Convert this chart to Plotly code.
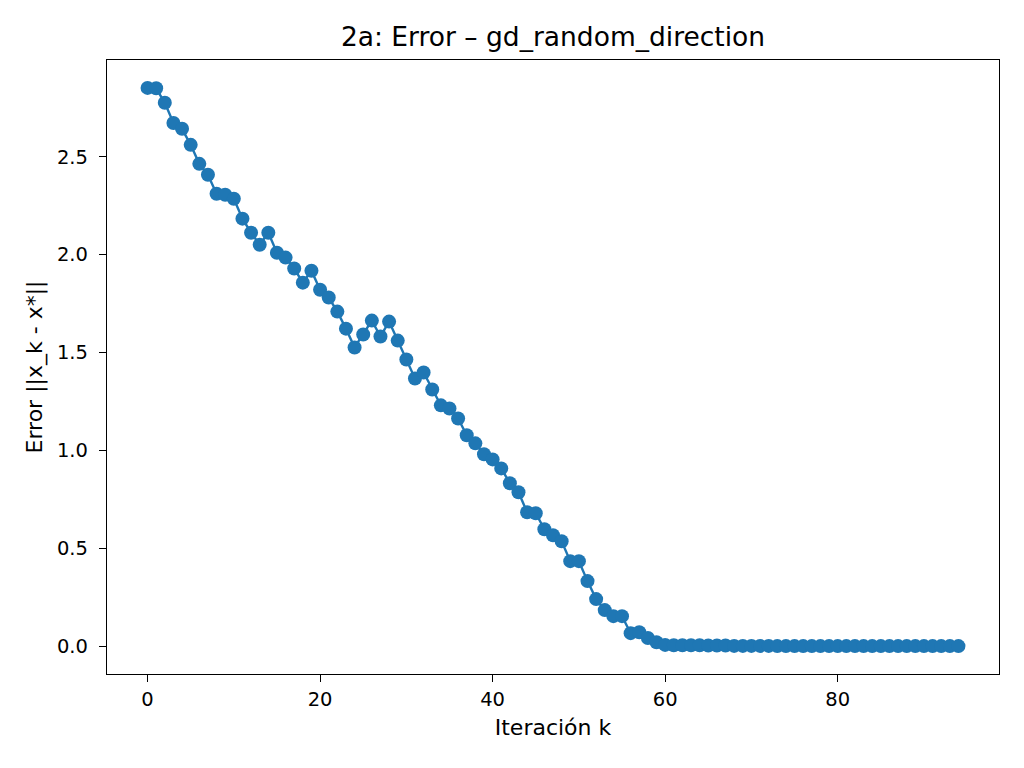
import plotly.graph_objects as go

# Iteration index and error values
iterations = list(range(95))
error = [
    2.852, 2.850, 2.776, 2.673, 2.643, 2.561, 2.464, 2.408, 2.311, 2.306,
    2.286, 2.184, 2.112, 2.051, 2.112, 2.010, 1.985, 1.929, 1.857, 1.918,
    1.821, 1.781, 1.709, 1.622, 1.526, 1.592, 1.663, 1.582, 1.658, 1.561,
    1.464, 1.367, 1.398, 1.311, 1.230, 1.214, 1.163, 1.077, 1.036, 0.980,
    0.954, 0.908, 0.832, 0.786, 0.684, 0.679, 0.597, 0.566, 0.536, 0.434,
    0.434, 0.332, 0.240, 0.184, 0.153, 0.153, 0.066, 0.071, 0.041, 0.020,
    0.006, 0.004, 0.004, 0.004, 0.004, 0.003, 0.003, 0.003, 0.001, 0.001,
    0.001, 0.001, 0.001, 0.000, 0.000, 0.000, 0.000, 0.000, 0.000, 0.000,
    0.000, 0.000, 0.000, 0.000, 0.000, 0.000, 0.000, 0.000, 0.000, 0.000,
    0.000, 0.000, 0.000, 0.000, 0.000,
]
x_ticks = [0, 20, 40, 60, 80]
y_ticks = [0.0, 0.5, 1.0, 1.5, 2.0, 2.5]

fig = go.Figure()

fig.add_trace(
    go.Scatter(
        x=iterations,
        y=error,
        mode="lines+markers",
        line=dict(color="#1f77b4", width=2.4),
        marker=dict(color="#1f77b4", size=14),
        showlegend=False,
    )
)

# matplotlib-like axes: boxed frame, outside ticks, no grid
axis_style = dict(
    showline=True,
    linecolor="black",
    linewidth=1.3,
    mirror=True,
    ticks="outside",
    ticklen=7,
    tickwidth=1.3,
    tickcolor="black",
    showgrid=False,
    zeroline=False,
    tickfont=dict(size=19.5, color="black"),
)

fig.update_xaxes(
    range=[-4.7, 98.7],
    tickvals=x_ticks,
    title=dict(text="Iteración k", font=dict(size=22, color="black"), standoff=10),
    **axis_style,
)
fig.update_yaxes(
    range=[-0.1426, 2.9946],
    tickvals=y_ticks,
    tickformat=".1f",
    ticklabelstandoff=7,
    title=dict(text="Error ||x_k - x*||", font=dict(size=22, color="black"), standoff=8),
    **axis_style,
)

# the page body adds an 8px offset, so margins are shifted to compensate
fig.update_layout(
    title=dict(
        text="2a: Error – gd_random_direction",
        xref="paper",
        x=0.5,
        xanchor="center",
        y=0.962,
        yanchor="middle",
        font=dict(size=26.5, color="black"),
    ),
    font=dict(family="DejaVu Sans"),
    width=1024,
    height=768,
    margin=dict(l=99, r=33, t=52, b=102),
    plot_bgcolor="white",
    paper_bgcolor="white",
)

fig.write_html("out.html")
